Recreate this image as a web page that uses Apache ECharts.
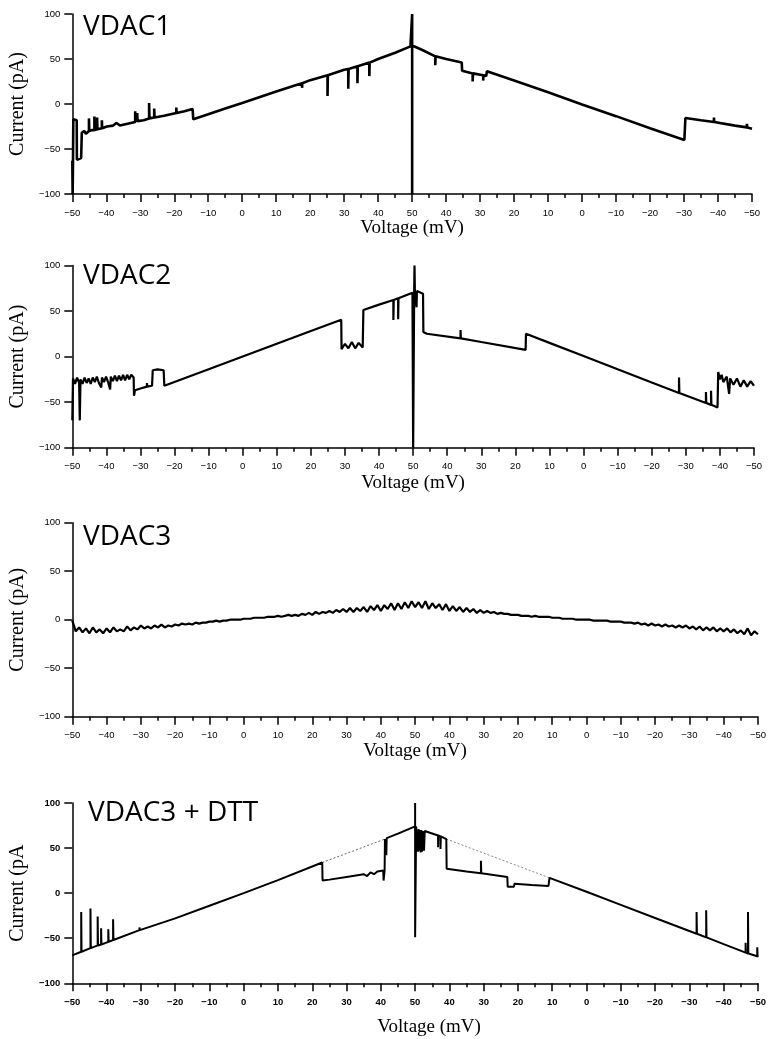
<!DOCTYPE html>
<html>
<head>
<meta charset="utf-8">
<script src="https://cdn.jsdelivr.net/npm/echarts@6/dist/echarts.min.js"></script>
<style>
  html, body { margin: 0; padding: 0; background: #fff; }
  #chart-container { width: 769px; height: 1039px; }
</style>
</head>
<body>
<div id="chart-container"></div>
<script>
// x position = sweep position (0..200 mV travelled); ramp goes -50 -> +50 -> -50 mV
const voltageLabels = ['-50','-40','-30','-20','-10','0','10','20','30','40','50',
                       '40','30','20','10','0','-10','-20','-30','-40','-50'];
const currentTicks = [-100, -50, 0, 50, 100];
const panelTitles = ['VDAC1', 'VDAC2', 'VDAC3', 'VDAC3 + DTT'];

// VDAC1 trace [position, current pA]
const vdac1Trace = [
  [0,-63],[0.1,-100],[0.2,-66],[0.3,-17],[1.3,-18],[1.35,-62],[2.6,-60],[2.8,-32],
  [3.5,-30],[4,-33],[4.9,-30],[4.9,-16],[5,-30],[5.7,-29],[6.5,-29],[6.5,-14],[6.6,-29],
  [7.3,-28],[7.3,-15],[7.4,-28],[8.7,-27],[8.7,-18],[8.8,-27],[10.2,-25],[12,-24],[13,-21],
  [14,-24],[18.5,-20],[18.5,-8],[18.6,-20],[19.1,-19],[19.1,-10],[19.2,-19],[21,-18],
  [22.6,-16],[22.6,1],[22.7,-16],[24.1,-15],[24.1,-5],[24.2,-15],[27,-13],[30.6,-10],
  [30.6,-4],[30.7,-10],[33,-8],[35.4,-5.5],
  [35.6,-17],[40,-11.5],[45,-5],[50,1],[55,7.5],[60,14],[65,20],[67.6,23],[67.6,18],[67.7,23],
  [70,26.5],[75.1,32],[75.1,9],[75.2,32],[80,38],[81.2,39],[81.2,17],[81.3,39],[83.9,42],
  [83.9,23],[84,42],[87.4,46],[87.4,31],[87.5,46],[90,50],[95,57],[99.5,64],[100,65],
  [100,100],[100,-100],[100,65],
  [103,60],[106.8,53],[106.8,43],[106.9,53],[110,50],[114.6,46],[114.7,37],[117.8,34],
  [117.8,25],[117.9,34],[120.9,32],[120.9,26],[121,32],[121.8,31],[122,36.5],[130,26],
  [140,13],[150,-0.5],[160,-13.5],[170,-27],[180.1,-40],[180.4,-15.5],[185,-18],
  [188.8,-20],[188.8,-15],[188.9,-20],[195,-24],[198.5,-26],[198.5,-22],[198.6,-26],[200,-27.5]
];

// VDAC2 trace [position, current pA]
const vdac2Trace = [
  [0,-70],[0.2,-24],[0.8,-30],[1.4,-23],[2,-29],[2.2,-70],[2.4,-25],[3,-30],[3.6,-23],
  [4.2,-29],[4.8,-24],[5.4,-30],[6,-23],[6.6,-28],[7.2,-22],[7.8,-29],[8.5,-34],[8.7,-23],
  [9.3,-28],[9.9,-22],[10.5,-28],[11.1,-36],[11.3,-22],[11.9,-27],[12.5,-21],[13.1,-27],
  [13.7,-21],[14.3,-26],[14.9,-20],[15.5,-26],[16.1,-20],[16.7,-25],[17.3,-20],[18,-23],
  [18.1,-43],[18.4,-37],[20,-35],[21.9,-33],[21.9,-29],[22,-33],[23.4,-32],[23.6,-15],
  [25,-14],[26.8,-15],
  [27,-32],[40,-14],[50,0],[60,14],[70,28],[78.9,40.4],
  [79,8],[80,14],[81,9],[82,16],[83,9],[84,15],[85.2,10],
  [85.4,51],[90,57],[94.2,62],[94.2,40],[94.3,62],[95.6,64],[95.6,41],[95.7,64],[99.8,70],
  [100,70],[100,-100],[100.3,72],[100.4,100],[100.5,73],[101,72],[101,54],[101.1,72],[102.9,69],
  [103,27],[104,25],[113.9,20],[113.9,29],[114,20],[120,16],[133,7.4],
  [133.1,25],[140,15],[150,0.6],[160,-14],[170,-28.5],[178,-40],[178,-23],[178.1,-40],
  [185.9,-51],[185.9,-39],[186,-51],[187.4,-53],[187.4,-37.5],[187.5,-53],[189.3,-56],
  [189.5,-17],[190,-25],[190.5,-20],[191,-28],[192,-22],[192.7,-41],[193,-24],[194,-31],
  [195,-24],[196,-33],[197,-26],[198,-33],[199,-27],[200,-32]
];

// VDAC3 current at positions 0,1,2,...,200
const vdac3Current = [
  -1,-12,-8,-13,-9,-14,-8,-13,-10,-14,
  -9,-13,-8,-12,-10,-12,-7,-11,-8,-10,
  -6,-9,-7,-9,-6,-8,-5,-8,-6,-7,
  -5,-6,-4,-5,-4,-5,-3,-4,-3,-3,
  -2,-2,-1,-2,-1,-1,0,0,0,0,
  1,1,1,2,2,2,2,3,3,3,
  4,3,4,5,4,5,4,6,5,7,
  5,8,6,8,7,9,7,10,8,11,
  8,12,8,12,9,13,8,14,10,15,
  9,15,11,17,10,17,11,18,12,19,
  13,18,12,19,11,17,12,16,10,16,
  9,14,9,13,8,12,8,11,7,10,
  7,9,7,8,6,7,6,6,5,5,
  5,4,4,4,3,4,3,3,3,3,
  2,2,2,1,1,1,1,0,0,0,
  0,0,-1,-1,-1,-1,-1,-2,-2,-2,
  -2,-3,-3,-3,-4,-3,-5,-4,-6,-4,
  -6,-5,-7,-5,-7,-6,-8,-6,-8,-6,
  -9,-7,-10,-7,-11,-8,-11,-8,-12,-9,
  -12,-9,-13,-10,-14,-11,-15,-9,-16,-12,
  -15
];

// VDAC3 + DTT trace [position, current pA]
const dttTrace = [
  [0,-69],[2.6,-65],[2.6,-21],[2.7,-65],[5.3,-61],[5.3,-17],[5.4,-61],[7.4,-58],[7.4,-26],
  [7.5,-58],[8.4,-57],[8.4,-39],[8.5,-57],[10.5,-54],[10.5,-40],[10.6,-54],[11.9,-52],
  [11.9,-29],[12,-52],[19.6,-41],[19.6,-38],[19.7,-41],[30,-28],[40,-14],[50,0],[60,14.5],
  [72.9,34],
  [73,14],[75,15],[80,18],[85,21],[86,19],[87,23],[88,21],[89,24],[90.7,25],[90.8,14],
  [91.1,25],[91.2,60],[91.6,42],[91.7,61],[95,66],[100,74],
  [100,100],[100,-49],[100.3,74],[100.6,72],[100.8,46],[101,71],[101.2,47],[101.4,70],
  [101.6,45],[101.8,70],[102,46],[102.3,69],[102.6,47],[102.8,69],[106.7,64],[106.7,51],
  [106.8,64],[107.4,63],[107.4,49],[107.5,63],[109.1,60],
  [109.2,27],[115,24],[119.2,22],[119.2,36],[119.3,22],[126.9,18],[127,7],[128.8,7],
  [129,10.5],[134,9],[138.9,8],
  [139.2,17],[150,1.5],[160,-13],[170,-27.5],[182.1,-45],[182.1,-21],[182.2,-45],
  [184.9,-49],[184.9,-19],[185,-49],[190,-56.5],[196.4,-66],[196.4,-55],[196.5,-66],
  [197.1,-67],[197.1,-21],[197.2,-67],[199.8,-70],[199.8,-60],[199.9,-70],[200,-71]
];
const dttGuideRise = [[72.9,34],[91.2,60]];
const dttGuideFall = [[109.1,60],[139.2,17]];

const grids = [
  { left: 64.5, top: 14, width: 687.5, height: 180 },
  { left: 67, top: 265.4, width: 687, height: 182.3 },
  { left: 61, top: 522.7, width: 698, height: 194 },
  { left: 68, top: 803, width: 696, height: 180.3 }
];
const titlePos = [[83, 27], [83, 276], [83, 537], [88, 813]];
const xNameGap = [24, 26, 22, 34];
const yNameGap = [32, 32, 26, 33];

const minus = s => String(s).replace('-', '\u2212');

let Chart = document.getElementById('chart-container');
let chart = echarts.init(Chart, null, { renderer: 'canvas' });

let xAxes = [], yAxes = [], graphics = [];
grids.forEach((g, i) => {
  let bold = i === 3 ? 'bold' : 'normal';
  xAxes.push({
    gridIndex: i,
    type: 'value',
    min: 0, max: 200, interval: 10,
    name: 'Voltage (mV)',
    nameLocation: 'middle',
    nameGap: xNameGap[i],
    nameTextStyle: {
      fontFamily: 'Liberation Serif', fontSize: 19, color: '#000',
      padding: i === 3 ? [0, 0, 0, 28] : 0
    },
    axisLine: { show: true, onZero: false, lineStyle: { color: '#000', width: 1.5 } },
    axisTick: { show: true, length: 8, lineStyle: { color: '#000', width: 1.5 } },
    minorTick: { show: true, splitNumber: 2, length: 4, lineStyle: { color: '#000', width: 1.5 } },
    splitLine: { show: false },
    axisLabel: {
      margin: 14, fontFamily: 'Liberation Sans', fontSize: 9.5, color: '#000', fontWeight: bold,
      formatter: v => minus(voltageLabels[Math.round(v / 10)])
    }
  });
  yAxes.push({
    gridIndex: i,
    type: 'value',
    min: currentTicks[0], max: currentTicks[currentTicks.length - 1], interval: 50,
    name: i === 3 ? 'Current (pA' : 'Current (pA)',
    nameLocation: 'middle',
    nameGap: yNameGap[i],
    nameTextStyle: { fontFamily: 'Liberation Serif', fontSize: 20, color: '#000' },
    axisLine: { show: true, onZero: false, lineStyle: { color: '#000', width: 1.5 } },
    axisTick: { show: true, length: 8, lineStyle: { color: '#000', width: 1.5 } },
    splitLine: { show: false },
    axisLabel: {
      margin: 12, fontFamily: 'Liberation Sans', fontSize: 9.5, color: '#000', fontWeight: bold,
      formatter: v => minus(v)
    }
  });
  graphics.push({
    type: 'text',
    x: titlePos[i][0], y: titlePos[i][1],
    style: {
      text: panelTitles[i],
      font: '28px "Open Sans"',
      fill: '#000',
      verticalAlign: 'middle'
    }
  });
});

const traceSeries = (data, idx, width) => ({
  type: 'line',
  xAxisIndex: idx, yAxisIndex: idx,
  data: data,
  showSymbol: false,
  symbol: 'none',
  sampling: null,
  lineStyle: { color: '#000', width: width },
  z: 3
});

let options = {
  animation: false,
  backgroundColor: '#fff',
  grid: grids,
  xAxis: xAxes,
  yAxis: yAxes,
  graphic: graphics,
  series: [
    traceSeries(vdac1Trace, 0, 2.6),
    traceSeries(vdac2Trace, 1, 2.2),
    traceSeries(vdac3Current.map((v, t) => [t, v]), 2, 2.2),
    {
      type: 'line', xAxisIndex: 3, yAxisIndex: 3, data: dttGuideRise,
      showSymbol: false, symbol: 'none',
      lineStyle: { color: '#666', width: 1, type: [2, 2] }
    },
    {
      type: 'line', xAxisIndex: 3, yAxisIndex: 3, data: dttGuideFall,
      showSymbol: false, symbol: 'none',
      lineStyle: { color: '#888', width: 1, type: [2, 2] }
    },
    traceSeries(dttTrace, 3, 2)
  ]
};

chart.setOption(options);
</script>
</body>
</html>
